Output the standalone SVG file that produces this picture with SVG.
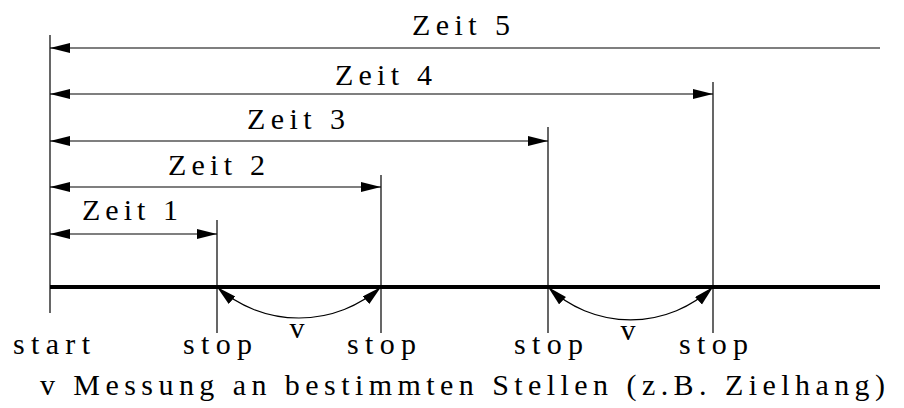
<svg xmlns="http://www.w3.org/2000/svg" width="904" height="408" viewBox="0 0 904 408">
<defs>
  <marker id="ah" markerUnits="userSpaceOnUse" markerWidth="21" markerHeight="11" refX="20" refY="5" orient="auto-start-reverse" viewBox="0 0 21 11">
    <path d="M0,0 L20,5 L0,10 z" fill="#000"/>
  </marker>
</defs>
<rect width="904" height="408" fill="#fff"/>

<g id="axis" stroke="#000" fill="none">
  <line stroke-width="4" x1="50" y1="287" x2="880" y2="287"/>
  <g stroke-width="1.2">
    <line x1="50" y1="35" x2="50" y2="313"/>
    <line x1="217" y1="220" x2="217" y2="333"/>
    <line x1="381" y1="175" x2="381" y2="333"/>
    <line x1="548" y1="127" x2="548" y2="333"/>
    <line x1="713" y1="82" x2="713" y2="333"/>
  </g>
</g>

<g id="connectors" stroke="#000" stroke-width="1.2" fill="none">
  <line x1="50" y1="48" x2="880" y2="48" marker-start="url(#ah)"/>
  <g marker-start="url(#ah)" marker-end="url(#ah)">
    <line x1="50" y1="94" x2="713" y2="94"/>
    <line x1="50" y1="141" x2="548" y2="141"/>
    <line x1="50" y1="187" x2="381" y2="187"/>
    <line x1="50" y1="234" x2="217" y2="234"/>
    <path d="M217,287 A124,124 0 0 0 381,287"/>
    <path d="M548,287 A120,120 0 0 0 713,287"/>
  </g>
</g>

<g id="labels" font-family="Liberation Serif" font-size="30" fill="#000">
  <text x="412" y="35" textLength="98" lengthAdjust="spacing">Zeit 5</text>
  <text x="335" y="85" textLength="97" lengthAdjust="spacing">Zeit 4</text>
  <text x="247" y="129" textLength="98" lengthAdjust="spacing">Zeit 3</text>
  <text x="168" y="175" textLength="97" lengthAdjust="spacing">Zeit 2</text>
  <text x="82" y="220" textLength="96" lengthAdjust="spacing">Zeit 1</text>
  <text x="13" y="354" textLength="77" lengthAdjust="spacing">start</text>
  <text x="183" y="354" textLength="69" lengthAdjust="spacing">stop</text>
  <text x="347" y="354" textLength="69" lengthAdjust="spacing">stop</text>
  <text x="514" y="354" textLength="69" lengthAdjust="spacing">stop</text>
  <text x="679" y="354" textLength="69" lengthAdjust="spacing">stop</text>
  <text x="297" y="338" text-anchor="middle">v</text>
  <text x="628" y="340" text-anchor="middle">v</text>
  <text x="40" y="395" textLength="845" lengthAdjust="spacing">v Messung an bestimmten Stellen (z.B. Zielhang)</text>
</g>
</svg>
